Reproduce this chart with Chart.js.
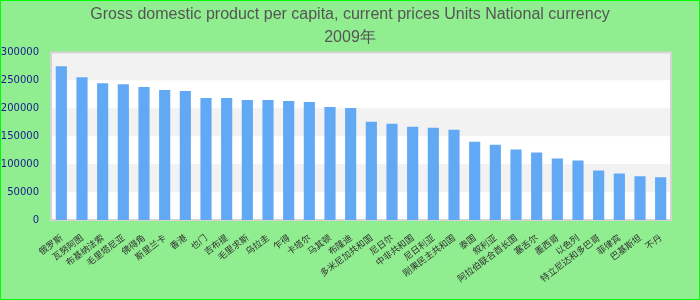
<!DOCTYPE html>
<html>
<head>
<meta charset="utf-8">
<script src="https://cdn.jsdelivr.net/npm/chart.js@4.4.0/dist/chart.umd.min.js"></script>
<style>
  html, body { margin: 0; padding: 0; background: #90ee90; }
  #wrap { width: 700px; height: 300px; position: relative; }
</style>
</head>
<body>
<div id="wrap"><canvas id="myChart" width="700" height="300"></canvas></div>
<script>
// countries, 2009, sorted high to low
var countries = ["俄罗斯", "瓦努阿图", "布基纳法索", "毛里塔尼亚", "佛得角", "斯里兰卡", "香港",
  "也门", "吉布提", "毛里求斯", "乌拉圭", "乍得", "卡塔尔", "马其顿", "布隆迪",
  "多米尼加共和国", "尼日尔", "中非共和国", "尼日利亚", "刚果民主共和国", "泰国", "叙利亚",
  "阿拉伯联合酋长国", "塞舌尔", "墨西哥", "以色列", "特立尼达和多巴哥", "菲律宾", "巴基斯坦", "不丹"];
var gdpValues = [275100, 255600, 245000, 243200, 237900, 232500, 230800,
  218300, 218300, 214800, 214800, 213000, 211200, 202400, 200600,
  175700, 172200, 166900, 165100, 161500, 140200, 134900,
  126000, 120700, 110100, 106500, 88800, 83400, 78100, 76300];
var yTicks = [0, 50000, 100000, 150000, 200000, 250000, 300000];
var titleLines = ["Gross domestic product per capita, current prices Units National currency", "2009年"];

var barColor = "#62a9f5";

// page background, green frame, striped plot area
var bgPlugin = {
  id: "bg",
  beforeDraw: function(chart) {
    var ctx = chart.ctx, a = chart.chartArea, y = chart.scales.y;
    ctx.save();
    ctx.fillStyle = "#90ee90";
    ctx.fillRect(0, 0, chart.width, chart.height);
    ctx.strokeStyle = "#00ff00";
    ctx.lineWidth = 1;
    ctx.strokeRect(0.5, 0.5, chart.width - 1, chart.height - 1);
    ctx.fillStyle = "#ffffff";
    ctx.fillRect(a.left, a.top, a.right - a.left, a.bottom - a.top);
    for (var i = 0; i < yTicks.length - 1; i++) {
      if (i % 2 == 1) {
        var t = y.getPixelForValue(yTicks[i + 1]);
        var b = y.getPixelForValue(yTicks[i]);
        ctx.fillStyle = "#f2f2f2";
        ctx.fillRect(a.left, t, a.right - a.left, b - t);
      }
    }
    ctx.strokeStyle = "#d4d4d4";
    ctx.lineWidth = 2;
    ctx.strokeRect(a.left, a.top, a.right - a.left, a.bottom - a.top);
    ctx.restore();
  }
};

new Chart("myChart", {
  type: "bar",
  data: {
    labels: countries,
    datasets: [{
      backgroundColor: barColor,
      data: gdpValues,
      categoryPercentage: 1,
      barPercentage: 0.54
    }]
  },
  options: {
    responsive: false,
    animation: false,
    layout: {padding: 0},
    plugins: {
      legend: {display: false},
      tooltip: {enabled: false},
      title: {
        display: true,
        text: titleLines,
        color: "#555555",
        font: {family: "'Liberation Sans', Arial, sans-serif", size: 16, weight: "normal", lineHeight: 1.45},
        padding: {top: 3, bottom: 3}
      }
    },
    scales: {
      x: {
        grid: {display: false},
        border: {display: false},
        ticks: {
          color: "#333333",
          font: {family: "'Noto Sans CJK SC', sans-serif", size: 9},
          minRotation: 37,
          maxRotation: 37,
          autoSkip: false,
          padding: 4
        },
        afterFit: function(s) { s.height = 80; }
      },
      y: {
        min: 0,
        max: 300000,
        grid: {display: false, drawTicks: false},
        border: {display: false},
        ticks: {
          stepSize: 50000,
          color: "#1a1a8c",
          font: {family: "'DejaVu Sans', sans-serif", size: 10},
          padding: 12,
          callback: function(v) { return v; }
        },
        afterFit: function(s) { s.width = 51; }
      },
      // empty axis that keeps the right margin
      yRight: {
        position: "right",
        display: true,
        grid: {display: false, drawTicks: false},
        border: {display: false},
        ticks: {display: false},
        afterFit: function(s) { s.width = 29; }
      }
    }
  },
  plugins: [bgPlugin]
});
</script>
</body>
</html>
